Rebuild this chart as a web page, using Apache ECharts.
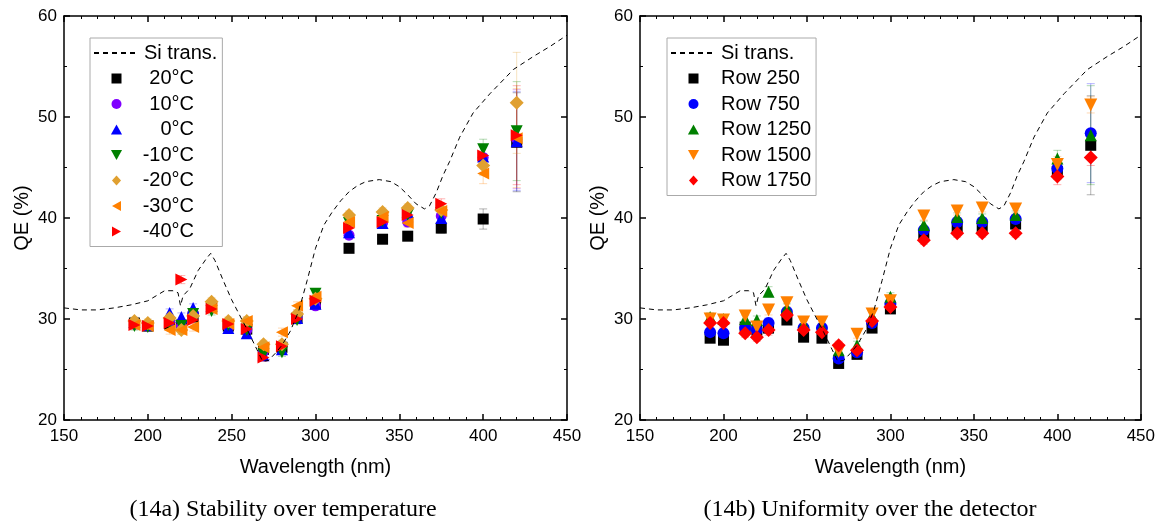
<!DOCTYPE html>
<html>
<head>
<meta charset="utf-8">
<script src="https://cdn.jsdelivr.net/npm/echarts@6/dist/echarts.min.js"></script>
<style>
html, body { margin: 0; padding: 0; background: #fff; }
#main { width: 1158px; height: 525px; }
</style>
</head>
<body>
<div id="main"></div>
<script>
// Si transmission curve (dashed), same on both panels
var siWave = [150, 160, 170, 180, 190, 200, 205, 210, 215, 218, 219.5, 221, 225, 230, 235, 237.5, 240, 245, 250, 255,
    260, 265, 268.5, 272, 276, 280, 285, 290, 295, 300, 305, 310, 315, 320, 325, 330, 338, 345, 350, 355,
    360, 365, 368, 372, 376, 380, 386, 394, 404, 418, 430, 440, 450];
var siTrans = [31.1, 30.9, 30.9, 31.1, 31.4, 31.8, 32.3, 32.8, 32.8, 32.6, 31.3, 32.3, 33.0, 34.8, 36.0, 36.5, 35.8, 33.8, 31.9, 30.3,
    28.7, 27.0, 25.8, 25.9, 26.6, 27.4, 28.8, 30.8, 33.8, 37.0, 39.3, 40.6, 41.7, 42.6, 43.2, 43.6, 43.8, 43.6, 43.1, 42.3,
    41.4, 40.9, 41.2, 42.5, 44.2, 45.6, 48.0, 50.4, 52.3, 54.7, 56.0, 57.0, 58.1];

// measured wavelengths
var wave = [192, 200, 213, 220, 227, 238, 248, 259, 269, 280, 289, 300, 320, 340, 355, 375, 400, 420];

// (14a) temperatures
var tempNames = ['20°C', '10°C', '0°C', '-10°C', '-20°C', '-30°C', '-40°C'];
var qeP20 = [29.6, 29.3, 29.5, 29.4, 30.2, 31.2, 29.3, 29.0, 27.0, 27.2, 30.1, 31.5, 37.0, 37.9, 38.2, 39.0, 39.9, 47.5];
var qeP10 = [29.5, 29.3, 29.8, 29.3, 30.6, 31.1, 29.2, 28.9, 26.8, 27.4, 30.2, 31.3, 38.3, 39.5, 39.6, 40.2, 46.0, 47.8];
var qe0 = [29.7, 29.4, 30.6, 30.2, 31.1, 31.3, 29.1, 28.6, 26.4, 27.0, 30.1, 31.5, 38.6, 39.5, 40.6, 40.0, 46.1, 47.6];
var qeM10 = [29.3, 29.2, 29.6, 29.3, 30.5, 30.8, 29.4, 28.9, 26.5, 26.7, 29.9, 32.5, 39.5, 39.7, 40.3, 40.5, 46.8, 48.6];
var qeM20 = [29.8, 29.6, 30.1, 28.9, 30.3, 31.7, 29.8, 29.8, 27.5, 27.5, 30.5, 32.0, 40.3, 40.6, 41.0, 40.8, 45.2, 51.4];
var qeM30 = [29.4, 29.3, 28.9, 28.9, 29.2, 31.0, 29.5, 29.8, 27.2, 28.7, 31.3, 32.2, 39.6, 40.1, 39.5, 40.7, 44.4, 47.9];
var qeM40 = [29.4, 29.3, 29.6, 33.9, 29.9, 31.0, 29.5, 29.0, 26.2, 27.3, 30.0, 31.8, 39.0, 39.6, 40.3, 41.4, 46.2, 48.2];
var errTemp = [0.4, 0.4, 0.4, 0.4, 0.4, 0.4, 0.4, 0.4, 0.4, 0.4, 0.4, 0.4, 0.4, 0.4, 0.4, 0.5, 1.0, 4.9];
var errTempM20 = [0.4, 0.4, 0.4, 0.4, 0.4, 0.4, 0.4, 0.4, 0.4, 0.4, 0.4, 0.4, 0.4, 0.4, 0.4, 0.5, 1.0, 5.0];

// (14b) detector rows
var rowNames = ['Row 250', 'Row 750', 'Row 1250', 'Row 1500', 'Row 1750'];
var qeR250 = [28.1, 27.9, 29.2, 28.9, 29.1, 29.9, 28.2, 28.1, 25.6, 26.5, 29.1, 31.0, 38.3, 39.1, 39.0, 39.4, 44.6, 47.2];
var qeR750 = [28.7, 28.6, 29.1, 28.9, 29.6, 30.7, 29.1, 29.1, 26.1, 26.7, 29.6, 31.5, 38.8, 39.6, 39.6, 39.9, 44.9, 48.4];
var qeR1250 = [30.2, 30.0, 30.0, 29.9, 32.7, 31.1, 29.5, 29.2, 26.9, 27.4, 30.3, 32.2, 39.3, 40.1, 40.0, 40.3, 45.9, 48.2];
var qeR1500 = [30.0, 29.9, 30.3, 29.2, 30.9, 31.6, 29.7, 29.7, 26.8, 28.5, 30.5, 31.8, 40.2, 40.7, 41.0, 40.9, 45.3, 51.2];
var qeR1750 = [29.6, 29.6, 28.6, 28.2, 28.9, 30.4, 28.9, 28.7, 27.4, 26.9, 29.8, 31.2, 37.8, 38.5, 38.5, 38.5, 44.1, 46.0];
var errRow = [0.4, 0.4, 0.4, 0.4, 0.5, 0.4, 0.4, 0.4, 0.4, 0.4, 0.4, 0.4, 0.4, 0.4, 0.4, 0.4, 0.8, 4.9];
var errRowSmall = [0.4, 0.4, 0.4, 0.4, 0.5, 0.4, 0.4, 0.4, 0.4, 0.4, 0.4, 0.4, 0.4, 0.4, 0.4, 0.4, 0.8, 0.8];

var font = '"Liberation Sans", Arial, sans-serif';
var serif = '"Liberation Serif", "Times New Roman", serif';

// legend icons (already oriented, keep aspect inside the 45px wide slot)
var icoRect = 'path://M0,0H10V10H0Z';
var icoCircle = 'path://M0,5A5,5,0,1,1,10,5A5,5,0,1,1,0,5Z';
var icoUp = 'path://M5,0L10,9L0,9Z';
var icoDown = 'path://M0,0L10,0L5,9Z';
var icoLeft = 'path://M9,0L9,10L0,5Z';
var icoRight = 'path://M0,0L9,5L0,10Z';
var icoDiamond = 'path://M5,0L10,5.5L5,11L0,5.5Z';

var tempSeries = [
    { name: tempNames[0], qe: qeP20, err: errTemp, color: '#000000', symbol: 'rect', size: 11, rot: 0, icon: icoRect },
    { name: tempNames[1], qe: qeP10, err: errTemp, color: '#8000ff', symbol: 'circle', size: 11, rot: 0, icon: icoCircle },
    { name: tempNames[2], qe: qe0, err: errTemp, color: '#0000ff', symbol: 'triangle', size: 12, rot: 0, icon: icoUp },
    { name: tempNames[3], qe: qeM10, err: errTemp, color: '#008000', symbol: 'triangle', size: 12, rot: 180, icon: icoDown },
    { name: tempNames[4], qe: qeM20, err: errTempM20, color: '#e0a030', symbol: 'diamond', size: 14, rot: 0, icon: icoDiamond },
    { name: tempNames[5], qe: qeM30, err: errTemp, color: '#ff8000', symbol: 'triangle', size: 12, rot: 90, icon: icoLeft },
    { name: tempNames[6], qe: qeM40, err: errTemp, color: '#ff0000', symbol: 'triangle', size: 12, rot: -90, icon: icoRight }
];
var rowSeries = [
    { name: rowNames[0], qe: qeR250, err: errRow, color: '#000000', symbol: 'rect', size: 11, rot: 0, icon: icoRect },
    { name: rowNames[1], qe: qeR750, err: errRow, color: '#0000ff', symbol: 'circle', size: 12, rot: 0, icon: icoCircle },
    { name: rowNames[2], qe: qeR1250, err: errRow, color: '#008000', symbol: 'triangle', size: 12, rot: 0, icon: icoUp },
    { name: rowNames[3], qe: qeR1500, err: errRowSmall, color: '#ff8000', symbol: 'triangle', size: 13, rot: 180, icon: icoDown },
    { name: rowNames[4], qe: qeR1750, err: errRowSmall, color: '#ff0000', symbol: 'diamond', size: 14, rot: 0, icon: icoDiamond }
];

function errRender(color) {
    return function (params, api) {
        var x = api.value(0), y = api.value(1), e = api.value(2);
        var hi = api.coord([x, y + e]);
        var lo = api.coord([x, y - e]);
        var c = 4;
        var st = { stroke: color, lineWidth: 1, opacity: 0.3 };
        return {
            type: 'group',
            children: [
                { type: 'line', shape: { x1: hi[0], y1: hi[1], x2: lo[0], y2: lo[1] }, style: st },
                { type: 'line', shape: { x1: hi[0] - c, y1: hi[1], x2: hi[0] + c, y2: hi[1] }, style: st },
                { type: 'line', shape: { x1: lo[0] - c, y1: lo[1], x2: lo[0] + c, y2: lo[1] }, style: st }
            ]
        };
    };
}

function xAxes(grid) {
    var base = {
        gridIndex: grid, type: 'value', min: 150, max: 450, interval: 50,
        axisLine: { onZero: false, lineStyle: { color: '#000', width: 1.5 } },
        axisTick: { inside: true, length: 6, lineStyle: { color: '#000', width: 1.5 } },
        minorTick: { show: true, splitNumber: 5, length: 3, lineStyle: { color: '#000', width: 1 } },
        splitLine: { show: false }
    };
    return [
        Object.assign({}, base, {
            position: 'bottom', name: 'Wavelength (nm)', nameLocation: 'middle', nameGap: 37,
            nameTextStyle: { fontSize: 20, color: '#000', fontFamily: font },
            axisLabel: { fontSize: 17, color: '#000', margin: 8, fontFamily: font }
        }),
        Object.assign({}, base, { position: 'top', axisLabel: { show: false } })
    ];
}

function yAxes(grid) {
    var base = {
        gridIndex: grid, type: 'value', min: 20, max: 60, interval: 10,
        axisLine: { onZero: false, lineStyle: { color: '#000', width: 1.5 } },
        axisTick: { inside: true, length: 6, lineStyle: { color: '#000', width: 1.5 } },
        minorTick: { show: true, splitNumber: 2, length: 3, lineStyle: { color: '#000', width: 1 } },
        splitLine: { show: false }
    };
    return [
        Object.assign({}, base, {
            position: 'left', name: 'QE (%)', nameLocation: 'middle', nameGap: 32,
            nameTextStyle: { fontSize: 20, color: '#000', fontFamily: font },
            axisLabel: { fontSize: 17, color: '#000', margin: 7, fontFamily: font }
        }),
        Object.assign({}, base, { position: 'right', axisLabel: { show: false } })
    ];
}

function buildSeries(list, xi, yi) {
    var out = [];
    // error bars underneath
    list.forEach(function (s) {
        out.push({
            name: s.name + ' err', type: 'custom', xAxisIndex: xi, yAxisIndex: yi, silent: true,
            renderItem: errRender(s.color),
            encode: { x: 0, y: 1 },
            data: wave.map(function (w, i) { return [w, s.qe[i], s.err[i]]; })
        });
    });
    out.push({
        name: 'Si trans.', type: 'line', xAxisIndex: xi, yAxisIndex: yi, symbol: 'none', silent: true,
        lineStyle: { color: '#000', width: 1, type: [5, 4] },
        itemStyle: { color: '#000' },
        data: siWave.map(function (w, i) { return [w, siTrans[i]]; })
    });
    list.forEach(function (s) {
        out.push({
            name: s.name, type: 'scatter', xAxisIndex: xi, yAxisIndex: yi,
            symbol: s.symbol, symbolSize: s.size, symbolRotate: s.rot,
            itemStyle: { color: s.color, opacity: 1 },
            data: wave.map(function (w, i) { return [w, s.qe[i]]; })
        });
    });
    return out;
}

function legendCfg(list, left, rightAlign) {
    var items = [{ name: 'Si trans.', itemStyle: { opacity: 0 } }];
    list.forEach(function (s) { items.push({ name: s.name, icon: s.icon }); });
    return {
        data: items,
        orient: 'vertical', left: left, top: 38,
        itemWidth: 45, itemHeight: 10, itemGap: 5.5,
        symbolRotate: 0,
        padding: [5, 5, 5, 3],
        borderColor: '#aaaaaa', borderWidth: 1,
        selectedMode: false,
        textStyle: {
            fontSize: 20, fontFamily: font, color: '#000', lineHeight: 20,
            rich: { r: { width: 50, align: 'right', fontSize: 20, fontFamily: font, color: '#000', lineHeight: 20 } }
        },
        formatter: function (n) {
            if (!rightAlign || n === 'Si trans.') return n;
            return '{r|' + n + '}';
        }
    };
}

var myChart = echarts.init(document.getElementById('main'));
var option = {
    animation: false,
    backgroundColor: '#fff',
    grid: [
        { left: 64, top: 16, width: 503, height: 404 },
        { left: 640, top: 16, width: 502, height: 404 }
    ],
    xAxis: xAxes(0).concat(xAxes(1)),
    yAxis: yAxes(0).concat(yAxes(1)),
    legend: [legendCfg(tempSeries, 90, true), legendCfg(rowSeries, 667, false)],
    graphic: [
        { type: 'text', x: 283, y: 510, style: { text: '(14a) Stability over temperature', font: '24px ' + serif, fill: '#000', align: 'center', verticalAlign: 'middle' } },
        { type: 'text', x: 870, y: 510, style: { text: '(14b) Uniformity over the detector', font: '24px ' + serif, fill: '#000', align: 'center', verticalAlign: 'middle' } }
    ],
    series: buildSeries(tempSeries, 0, 0).concat(buildSeries(rowSeries, 2, 2))
};
if (option && typeof option === "object") {
    myChart.setOption(option, true);
}
</script>
</body>
</html>
